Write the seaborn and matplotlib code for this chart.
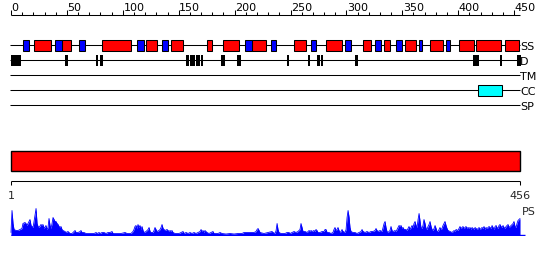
import matplotlib
matplotlib.use("Agg")
import matplotlib.pyplot as plt
from matplotlib.patches import Rectangle
import seaborn as sns

# ---------------- data ----------------
seq_len = 456
ruler_major = [0, 50, 100, 150, 200, 250, 300, 350, 400, 450]
ruler_minor = list(range(0, 451, 10))

# secondary structure (residue start, end)
helix = [(21, 36), (46, 54), (81, 107), (121, 131), (143, 154), (175, 180),
         (190, 204), (216, 228), (253, 264), (282, 296), (315, 322), (334, 339),
         (352, 362), (375, 386), (401, 414), (416, 438), (442, 454)]
strand = [(11, 16), (39, 46), (61, 66), (113, 119), (135, 140), (209, 216),
          (233, 237), (268, 273), (299, 304), (326, 331), (344, 350), (365, 368),
          (389, 393)]
# disorder segments
disorder = [(0.0, 8.7), (48.3, 51.0), (75.7, 77.8), (79.3, 82.0), (156.4, 159.1),
            (160.1, 164.5), (165.3, 169.2), (169.6, 171.3), (187.6, 191.1),
            (202.0, 205.7), (247.0, 248.7), (266.0, 267.7), (273.4, 276.4),
            (277.6, 279.3), (307.7, 310.4), (413.2, 418.3), (437.4, 439.5),
            (452.3, 455.9)]
transmembrane = []
coiled_coil = [(417.7, 439.2)]
signal_peptide = []
track_names = ["SS", "D", "TM", "CC", "SP"]
domain_bar = [(0, 455.5)]
range_labels = ["1", "456"]

# PS profile (residue position, score)
ps_pos = [
    0.0, 0.9, 1.8, 2.7, 4.5, 6.3, 8.1, 9.8, 10.7, 12.5,
    13.4, 14.3, 15.2, 17.0, 17.9, 18.8, 19.7, 20.6, 22.4, 23.3,
    24.2, 25.1, 26.8, 27.7, 28.6, 29.5, 31.3, 32.2, 33.1, 34.0,
    34.9, 35.8, 36.7, 37.6, 38.5, 39.4, 40.3, 41.2, 42.1, 43.0,
    43.9, 44.7, 45.6, 46.5, 48.3, 49.2, 51.0, 52.8, 54.6, 56.4,
    57.3, 58.2, 60.0, 61.8, 62.6, 63.5, 65.3, 67.1, 68.9, 72.5,
    74.3, 76.1, 77.0, 78.8, 79.7, 81.4, 83.2, 85.0, 86.8, 88.6,
    90.4, 91.3, 94.9, 98.4, 102.0, 103.8, 107.3, 109.1, 110.0, 110.9,
    111.8, 112.7, 113.6, 114.5, 115.4, 116.3, 117.2, 118.1, 119.0, 120.8,
    122.6, 123.5, 124.4, 125.2, 127.0, 127.9, 128.8, 129.7, 130.6, 132.4,
    133.3, 134.2, 135.1, 136.0, 136.9, 137.8, 139.6, 140.5, 141.4, 142.3,
    143.1, 144.0, 144.9, 146.7, 150.3, 153.9, 154.8, 156.6, 158.4, 160.1,
    161.9, 163.7, 165.5, 167.3, 169.1, 170.0, 170.9, 171.8, 172.6, 173.5,
    174.4, 175.3, 177.1, 178.9, 180.7, 181.6, 185.2, 187.0, 188.7, 192.3,
    195.9, 199.5, 203.1, 206.6, 208.4, 213.8, 217.4, 219.2, 220.1, 221.0,
    221.9, 222.8, 226.3, 229.9, 233.5, 234.4, 236.2, 237.1, 238.0, 238.8,
    239.7, 241.5, 245.1, 246.9, 248.7, 249.6, 251.4, 253.2, 254.9, 256.7,
    258.5, 259.4, 260.3, 261.2, 263.0, 264.8, 266.6, 267.5, 268.4, 269.3,
    271.0, 271.9, 272.8, 273.7, 274.6, 276.4, 278.2, 280.0, 280.9, 281.8,
    282.7, 284.5, 286.2, 288.0, 288.9, 289.8, 290.7, 291.6, 292.5, 293.4,
    294.3, 295.2, 296.1, 297.0, 298.8, 299.7, 300.6, 301.5, 302.4, 303.2,
    304.1, 305.9, 307.7, 309.5, 311.3, 313.1, 314.0, 314.9, 316.7, 318.4,
    320.2, 322.0, 323.8, 325.6, 326.5, 327.4, 328.3, 330.1, 331.9, 332.8,
    333.7, 334.6, 335.4, 336.3, 337.2, 339.0, 339.9, 340.8, 341.7, 343.5,
    344.4, 345.3, 346.2, 347.1, 348.0, 348.9, 349.8, 350.7, 351.6, 353.3,
    354.2, 355.1, 356.0, 356.9, 357.8, 358.7, 359.6, 360.5, 361.4, 362.3,
    363.2, 364.1, 365.0, 365.9, 366.7, 367.6, 368.5, 369.4, 370.3, 371.2,
    372.1, 373.0, 373.9, 374.8, 375.7, 376.6, 377.5, 378.4, 379.3, 380.2,
    381.1, 382.0, 382.9, 383.7, 384.6, 385.5, 386.4, 387.3, 388.2, 389.1,
    390.0, 390.9, 392.7, 394.5, 395.4, 396.3, 397.2, 398.1, 399.8, 400.7,
    401.6, 402.5, 403.4, 404.3, 405.2, 406.1, 407.0, 407.9, 408.8, 409.7,
    410.6, 411.5, 412.4, 413.3, 414.2, 415.1, 416.0, 416.9, 417.8, 418.7,
    419.5, 420.4, 421.3, 422.2, 423.1, 424.0, 424.9, 425.8, 427.6, 428.5,
    429.4, 430.3, 431.2, 432.1, 433.0, 433.9, 434.7, 435.6, 436.5, 437.4,
    438.3, 439.2, 440.1, 441.0, 441.9, 442.8, 443.7, 444.6, 445.5, 446.4,
    447.3, 448.2, 449.1, 449.9, 450.8, 451.7, 452.6, 453.5, 454.4, 455.3,
]
ps_score = [
    3, 25, 12, 6, 5, 5, 6, 7, 12, 13,
    12, 10, 12, 16, 10, 9, 8, 14, 27, 12,
    9, 8, 11, 10, 11, 7, 10, 6, 8, 17,
    10, 7, 12, 18, 16, 14, 14, 12, 11, 9,
    8, 9, 6, 5, 4, 3, 4, 2, 2, 4,
    5, 3, 3, 4, 5, 3, 3, 2, 2, 2,
    2, 3, 2, 3, 2, 3, 3, 2, 3, 3,
    4, 2, 2, 2, 3, 2, 2, 4, 6, 9,
    10, 7, 11, 8, 10, 6, 9, 5, 3, 4,
    6, 8, 4, 3, 3, 5, 8, 6, 4, 5,
    6, 8, 11, 7, 6, 5, 6, 5, 4, 5,
    4, 5, 3, 2, 2, 4, 2, 3, 2, 3,
    2, 3, 2, 3, 4, 6, 4, 5, 3, 5,
    4, 3, 2, 3, 4, 2, 2, 3, 2, 1.5,
    2, 1.5, 2, 2, 3, 3, 3, 4, 6, 7,
    5, 3, 2, 3, 4, 3, 2, 5, 12, 6,
    3, 2, 2, 3, 3, 2, 3, 4, 3, 4,
    6, 12, 8, 4, 4, 3, 5, 4, 5, 4,
    5, 4, 6, 5, 3, 3, 4, 4, 6, 6,
    3, 3, 2, 3, 6, 8, 5, 6, 8, 5,
    3, 4, 6, 4, 3, 6, 18, 25, 18, 8,
    4, 3, 3, 2, 3, 4, 6, 4, 3, 4,
    3, 4, 4, 5, 7, 5, 4, 5, 4, 8,
    12, 14, 8, 4, 3, 5, 9, 5, 4, 5,
    4, 6, 8, 10, 9, 10, 7, 8, 6, 6,
    5, 7, 9, 6, 8, 10, 8, 12, 14, 10,
    8, 16, 22, 14, 8, 7, 10, 16, 12, 7,
    6, 9, 11, 14, 9, 6, 5, 7, 10, 7,
    4, 4, 6, 8, 6, 7, 10, 12, 14, 10,
    7, 5, 4, 3, 4, 5, 4, 6, 5, 7,
    9, 7, 8, 9, 7, 8, 9, 7, 8, 7,
    8, 6, 8, 7, 6, 8, 7, 6, 7, 8,
    6, 7, 8, 7, 9, 6, 8, 7, 9, 8,
    7, 10, 8, 6, 9, 10, 8, 7, 10, 11,
    9, 8, 10, 8, 7, 9, 10, 11, 8, 9,
    10, 11, 12, 14, 9, 8, 12, 15, 16, 17,
]
assert len(ps_pos) == len(ps_score)

# ---------------- style ----------------
sns.set_theme(style="white")
plt.rcParams['font.family'] = ['DejaVu Sans']

RED, BLUE, CYAN, BLACK = "#ff0000", "#0000ff", "#00ffff", "#000000"
FS = 8
LW = 0.75

W, H = 550, 260
fig = plt.figure(figsize=(W / 100, H / 100), dpi=100)
fig.patch.set_facecolor("white")

# horizontal scale: residue -> pixel = 11 + 1.118 * residue
PX0, PXR = 11.0, 1.118
XLIM = (-PX0 / PXR, (W - PX0) / PXR)
END = seq_len - 0.5

ax = fig.add_axes([0, 0, 1, 1])
ax.set_xlim(*XLIM)
ax.set_ylim(H, 0)
ax.axis("off")

# top ruler
RULER_Y = 15
ax.hlines(RULER_Y, 0, END, color=BLACK, lw=LW)
ax.vlines([t for t in ruler_minor if t not in ruler_major], RULER_Y - 3, RULER_Y,
          color=BLACK, lw=LW)
ax.vlines(ruler_major, RULER_Y - 5, RULER_Y, color=BLACK, lw=LW)
for t in ruler_major:
    ax.text(t + 0.5, 10.6, str(t), ha="left", va="baseline", fontsize=FS,
            color=BLACK)

# feature tracks
track_y = {"SS": 45, "D": 60, "TM": 75, "CC": 90, "SP": 105}
for name in track_names:
    y = track_y[name]
    ax.hlines(y, -0.9, END, color=BLACK, lw=LW, zorder=1)
    ax.text(END, y + 5, name, ha="left", va="baseline", fontsize=FS, color=BLACK)


def boxes(segs, y, color, edge=True):
    for s, e in segs:
        ax.add_patch(Rectangle((s, y - 5), e - s, 10.5, facecolor=color,
                               edgecolor=BLACK if edge else "none",
                               lw=LW if edge else 0, zorder=2))


boxes(helix, track_y["SS"], RED)
boxes(strand, track_y["SS"], BLUE)
boxes(disorder, track_y["D"], BLACK, edge=False)
boxes(transmembrane, track_y["TM"], "#999999")
boxes(coiled_coil, track_y["CC"], CYAN)
boxes(signal_peptide, track_y["SP"], "#999999")

# domain bar
for s, e in domain_bar:
    ax.add_patch(Rectangle((s, 150.5), e - s, 20, facecolor=RED,
                           edgecolor=BLACK, lw=1.0, zorder=2))

# bottom range ruler
ax.hlines(180.5, 0, END, color=BLACK, lw=LW)
ax.vlines([0, END], 180.5, 185, color=BLACK, lw=LW)
ax.text(0, 199, range_labels[0], ha="center", va="baseline", fontsize=FS)
ax.text(END, 199, range_labels[1], ha="center", va="baseline", fontsize=FS)
ax.text(END + 1.5, 215, "PS", ha="left", va="baseline", fontsize=FS)

# PS profile
axp = fig.add_axes([0, (H - 235.5) / H, 1, 30 / H])
axp.set_xlim(*XLIM)
axp.set_ylim(0, 30)
axp.axis("off")
axp.fill_between(ps_pos, 0, ps_score, color=BLUE, lw=0)
sns.lineplot(x=ps_pos, y=ps_score, ax=axp, color=BLUE, lw=0.6,
             estimator=None, sort=False, legend=False)
axp.hlines(0.4, 0, END + 4, color=BLUE, lw=1.0)
axp.set_xlabel("")
axp.set_ylabel("")

fig.savefig("out.png", dpi=100, facecolor="white")
